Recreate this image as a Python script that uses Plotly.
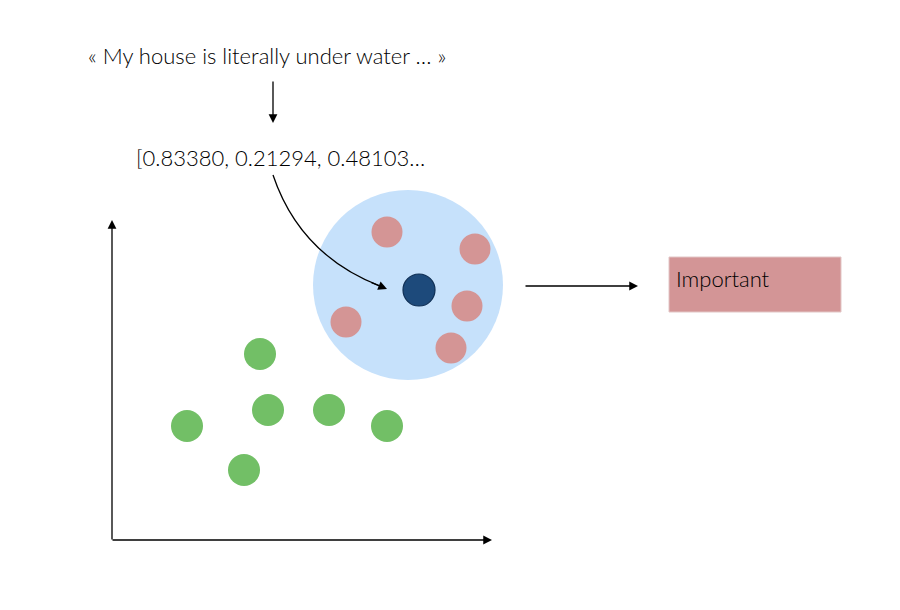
import plotly.graph_objects as go

# ---- data (pixel-space diagram coordinates) ----
sentence = "« My house is literally under water … »"
vector_text = "[0.83380, 0.21294, 0.48103…"
label_text = "Important"

green_x = [260, 187, 268, 329, 387, 244]
green_y = [354, 426, 410, 410, 426, 470]
red_x = [387, 475, 467, 346, 451]
red_y = [232, 249, 306, 322, 348]
query_x = [419]
query_y = [290]
circle_center = [408, 285]
circle_radius = [95, 95]

W, H = 900, 610
OFF = 8  # page body margin
FONT = "Lato"

fig = go.Figure()

# big neighborhood circle
fig.add_shape(type="circle", xref="x", yref="y",
              x0=circle_center[0] - circle_radius[0], x1=circle_center[0] + circle_radius[0],
              y0=circle_center[1] - circle_radius[1], y1=circle_center[1] + circle_radius[1],
              fillcolor="#c6e1fb", line=dict(width=0), layer="below")

# Important box
fig.add_shape(type="rect", xref="x", yref="y", x0=669, x1=841, y0=257, y1=312,
              fillcolor="#d39596", line=dict(color="#e2c6c6", width=1), layer="below")

# curved arrow path
fig.add_shape(type="path", xref="x", yref="y",
              path="M 273 175 Q 300 255 380 286",
              line=dict(color="black", width=1.3))

# points
fig.add_trace(go.Scatter(x=green_x, y=green_y, mode="markers",
                         marker=dict(size=32, color="#72bf66", line=dict(width=0)),
                         hoverinfo="skip"))
fig.add_trace(go.Scatter(x=red_x, y=red_y, mode="markers",
                         marker=dict(size=31, color="#d49595", line=dict(width=0)),
                         hoverinfo="skip"))
fig.add_trace(go.Scatter(x=query_x, y=query_y, mode="markers",
                         marker=dict(size=32, color="#1d4a7b", line=dict(width=1.2, color="#0f2f55")),
                         hoverinfo="skip"))

ann = []
def arrow(x0, y0, x1, y1, w=1.3):
    ann.append(dict(x=x1, y=y1, ax=x0, ay=y0, xref="x", yref="y", axref="x", ayref="y",
                    showarrow=True, arrowhead=2, arrowsize=1.35, arrowwidth=w,
                    arrowcolor="black", text=""))

arrow(273, 80, 273, 123)          # sentence -> vector
arrow(370, 282, 387, 289)          # curved arrow head
arrow(112, 541, 112, 220)          # y axis
arrow(111, 540, 492, 540)          # x axis
arrow(524, 286, 638, 286)          # neighborhood -> label

ann.append(dict(x=267, y=55, xref="x", yref="y", text=sentence, showarrow=False,
                font=dict(family=FONT, size=22, color="black", weight=300), xanchor="center", yanchor="middle"))
ann.append(dict(x=134, y=157, xref="x", yref="y", text=vector_text, showarrow=False,
                font=dict(family=FONT, size=22, color="black", weight=300), xanchor="left", yanchor="middle"))
ann.append(dict(x=674, y=278, xref="x", yref="y", text=label_text, showarrow=False,
                font=dict(family=FONT, size=22, color="black", weight=300), xanchor="left", yanchor="middle"))

fig.update_layout(
    width=W, height=H, margin=dict(l=0, r=0, t=0, b=0),
    paper_bgcolor="white", plot_bgcolor="white", showlegend=False,
    annotations=ann,
    xaxis=dict(range=[OFF, W + OFF], visible=False, fixedrange=True),
    yaxis=dict(range=[H + OFF, OFF], visible=False, fixedrange=True),
)

fig.write_html("out.html")
